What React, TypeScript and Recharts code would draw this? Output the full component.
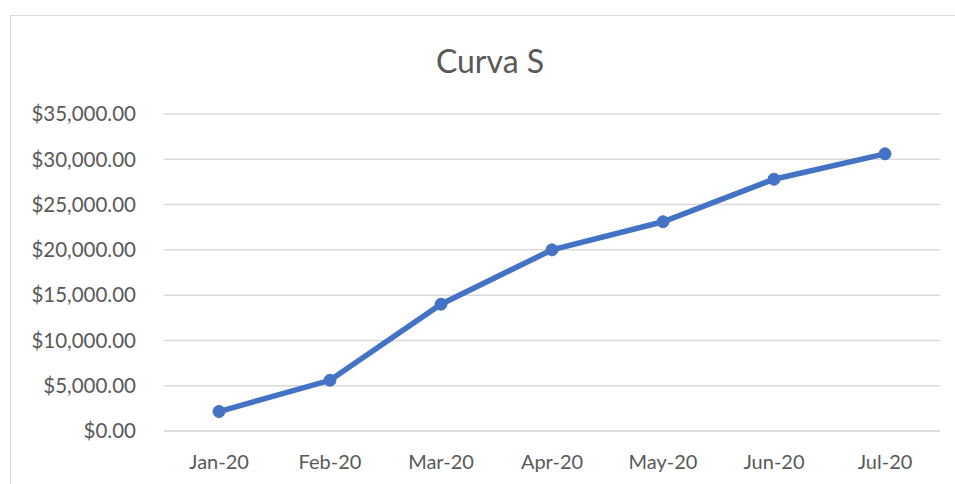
import { LineChart, Line, XAxis, YAxis, CartesianGrid } from 'recharts';

// Curva S - accumulated cost per month
const months = ['Jan-20', 'Feb-20', 'Mar-20', 'Apr-20', 'May-20', 'Jun-20', 'Jul-20'];
const costs = [2150, 5600, 14000, 20000, 23100, 27800, 30600];
const yTicks = [0, 5000, 10000, 15000, 20000, 25000, 30000, 35000];

const data = months.map((m, i) => ({ month: m, cost: costs[i] }));

const font = 'Lato, "Open Sans", sans-serif';
const textColor = '#595959';
const gridColor = '#d9d9d9';

const money = (v: number) =>
    '$' + v.toLocaleString('en-US', { minimumFractionDigits: 2, maximumFractionDigits: 2 });

export default function App() {
    return (
        <div style={{ position: 'absolute', left: 0, top: 0, width: 955, height: 484, overflow: 'hidden', background: '#fff' }}>
            {/* chart frame, runs off the right and bottom edges */}
            <div style={{ position: 'absolute', left: 10, top: 15, width: 1000, height: 600, borderTop: `1px solid ${gridColor}`, borderLeft: `1px solid ${gridColor}` }} />
            <div style={{ position: 'absolute', left: 0, top: 41, width: 980, textAlign: 'center', fontFamily: font, fontSize: 32, color: textColor, lineHeight: '40px' }}>
                Curva S
            </div>
            <LineChart
                width={955}
                height={484}
                data={data}
                margin={{ top: 114, right: 15, bottom: 0, left: 0 }}
                style={{ position: 'absolute', left: 0, top: 0 }}
            >
                <CartesianGrid vertical={false} stroke={gridColor} strokeWidth={1.5} />
                <XAxis
                    dataKey="month"
                    padding={{ left: 55, right: 55 }}
                    axisLine={{ stroke: gridColor, strokeWidth: 1.5 }}
                    tickLine={false}
                    tickSize={0}
                    tickMargin={24}
                    height={53}
                    tick={{ fill: textColor, fontFamily: font, fontSize: 20 }}
                />
                <YAxis
                    domain={[0, 35000]}
                    ticks={yTicks}
                    tickFormatter={money}
                    axisLine={false}
                    tickLine={false}
                    tickSize={0}
                    tickMargin={28}
                    width={164}
                    interval={0}
                    tick={{ fill: textColor, fontFamily: font, fontSize: 20.5 }}
                />
                <Line
                    type="linear"
                    dataKey="cost"
                    stroke="#4472C4"
                    strokeWidth={5.5}
                    dot={{ r: 6, fill: '#4472C4', stroke: '#4472C4', strokeWidth: 1 }}
                    isAnimationActive={false}
                />
            </LineChart>
        </div>
    );
}
